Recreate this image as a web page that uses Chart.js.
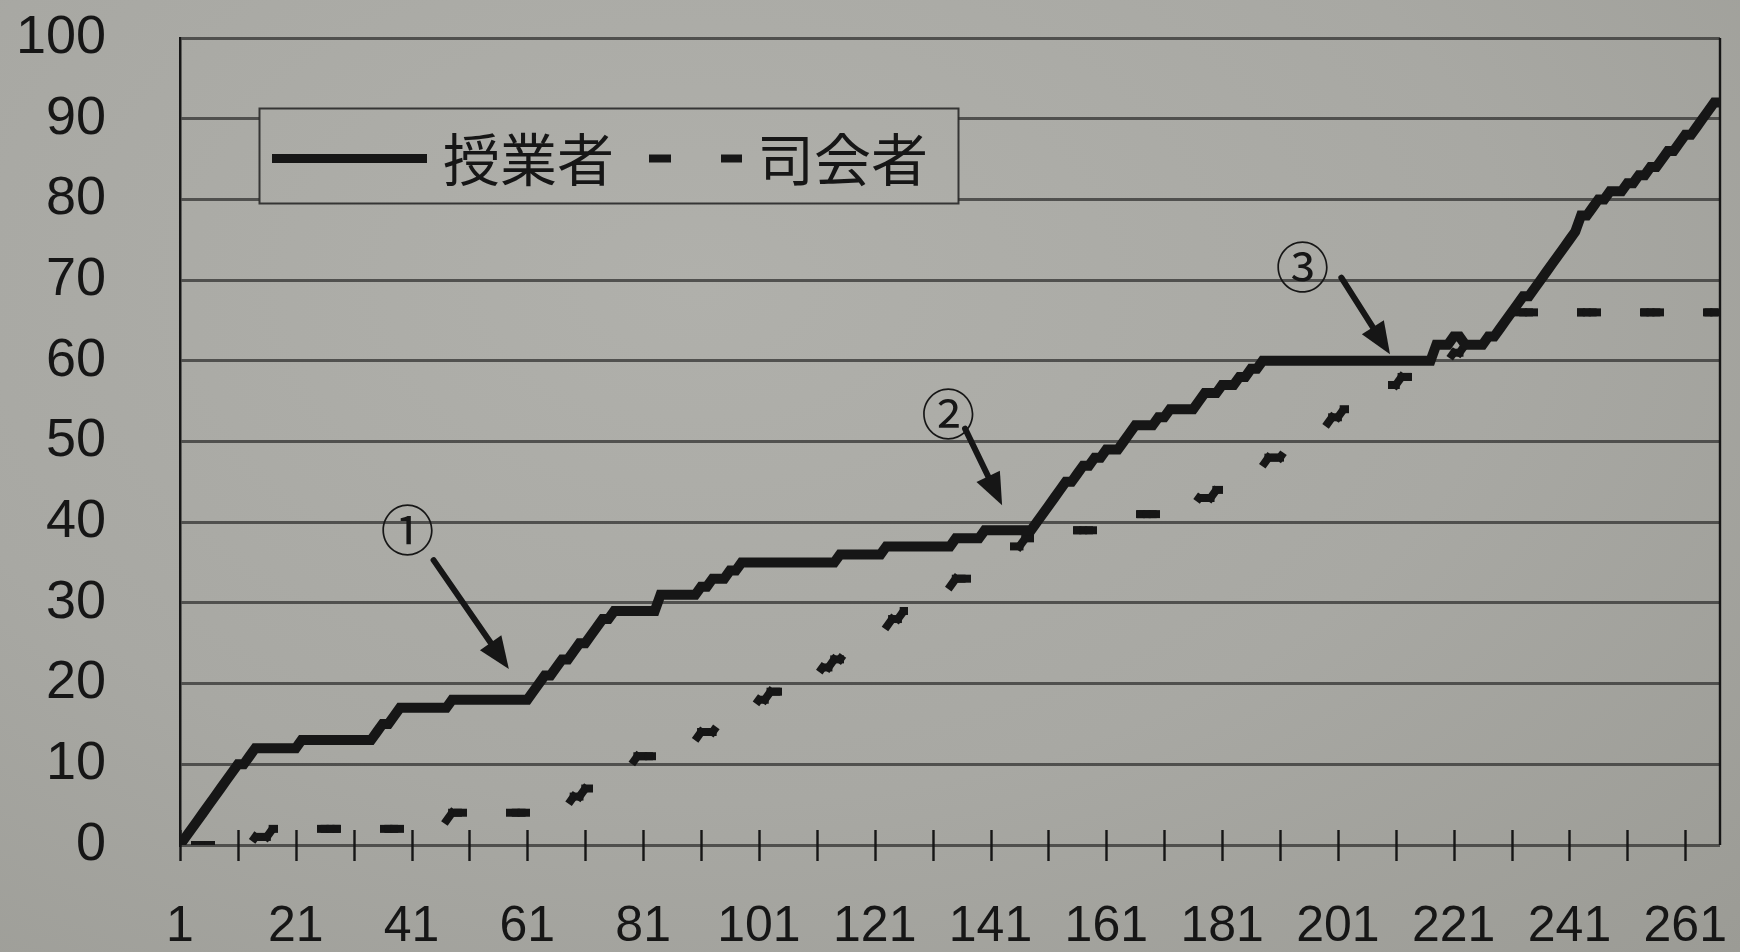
<!DOCTYPE html>
<html>
<head>
<meta charset="utf-8">
<script src="https://cdn.jsdelivr.net/npm/chart.js@4.4.1/dist/chart.umd.min.js"></script>
<style>
  html, body { margin: 0; padding: 0; }
  body {
    width: 1740px; height: 952px; overflow: hidden;
    background: radial-gradient(ellipse at 40% 30%, #b0b0ab 0%, #a8a8a3 55%, #9b9b95 100%);
  }
  #wrap { position: absolute; left: 0; top: 0; width: 1740px; height: 952px; }
</style>
</head>
<body>
<div id="wrap"><canvas id="c" width="1740" height="952"></canvas></div>
<script>
// Utterance sequence numbers along the x axis
const utteranceNo = Array.from({ length: 267 }, (_, i) => i + 1);

// Cumulative values for the teacher (授業者)
const teacher = [
  0, 1, 2, 3, 4, 5, 6, 7, 8, 9,
  10, 10, 11, 12, 12, 12, 12, 12, 12, 12,
  12, 13, 13, 13, 13, 13, 13, 13, 13, 13,
  13, 13, 13, 13, 14, 15, 15, 16, 17, 17,
  17, 17, 17, 17, 17, 17, 17, 18, 18, 18,
  18, 18, 18, 18, 18, 18, 18, 18, 18, 18,
  18, 19, 20, 21, 21, 22, 23, 23, 24, 25,
  25, 26, 27, 28, 28, 29, 29, 29, 29, 29,
  29, 29, 29, 31, 31, 31, 31, 31, 31, 31,
  32, 32, 33, 33, 33, 34, 34, 35, 35, 35,
  35, 35, 35, 35, 35, 35, 35, 35, 35, 35,
  35, 35, 35, 35, 36, 36, 36, 36, 36, 36,
  36, 36, 37, 37, 37, 37, 37, 37, 37, 37,
  37, 37, 37, 37, 38, 38, 38, 38, 38, 39,
  39, 39, 39, 39, 39, 39, 39, 39, 40, 41,
  42, 43, 44, 45, 45, 46, 47, 47, 48, 48,
  49, 49, 49, 50, 51, 52, 52, 52, 52, 53,
  53, 54, 54, 54, 54, 54, 55, 56, 56, 56,
  57, 57, 57, 58, 58, 59, 59, 60, 60, 60,
  60, 60, 60, 60, 60, 60, 60, 60, 60, 60,
  60, 60, 60, 60, 60, 60, 60, 60, 60, 60,
  60, 60, 60, 60, 60, 60, 60, 62, 62, 62,
  63, 63, 62, 62, 62, 62, 63, 63, 64, 65,
  66, 67, 68, 68, 69, 70, 71, 72, 73, 74,
  75, 76, 78, 78, 79, 80, 80, 81, 81, 81,
  82, 82, 83, 83, 84, 84, 85, 86, 86, 87,
  88, 88, 89, 90, 91, 92, 92
];

// Cumulative values for the moderator (司会者)
const moderator = [
  0, 0, 0, 0, 0, 0, 0, 0, 0, 0,
  0, 0, 0, 1, 1, 1, 2, 2, 2, 2,
  2, 2, 2, 2, 2, 2, 2, 2, 2, 2,
  2, 2, 2, 2, 2, 2, 2, 2, 2, 2,
  2, 2, 2, 2, 2, 3, 3, 4, 4, 4,
  4, 4, 4, 4, 4, 4, 4, 4, 4, 4,
  4, 4, 4, 4, 4, 4, 5, 5, 6, 6,
  7, 7, 7, 8, 8, 9, 9, 10, 10, 11,
  11, 11, 11, 11, 11, 11, 12, 12, 13, 13,
  14, 14, 14, 15, 15, 16, 16, 16, 17, 17,
  18, 18, 19, 19, 19, 20, 20, 20, 21, 21,
  21, 22, 22, 23, 23, 24, 24, 25, 25, 26,
  26, 27, 27, 28, 28, 29, 29, 30, 30, 30,
  31, 31, 32, 32, 33, 33, 33, 34, 34, 35,
  35, 36, 36, 37, 37, 37, 38, 38, 38, 39,
  39, 39, 39, 39, 39, 39, 39, 39, 39, 39,
  39, 39, 39, 40, 40, 41, 41, 41, 41, 41,
  41, 41, 41, 41, 42, 42, 43, 43, 43, 44,
  44, 45, 45, 45, 46, 46, 47, 47, 48, 48,
  48, 49, 49, 50, 50, 51, 51, 52, 52, 53,
  53, 54, 54, 55, 55, 56, 56, 56, 57, 57,
  57, 58, 58, 58, 59, 59, 59, 60, 60, 60,
  61, 61, 62, 62, 63, 63, 64, 64, 65, 65,
  66, 66, 66, 66, 66, 66, 66, 66, 66, 66,
  66, 66, 66, 66, 66, 66, 66, 66, 66, 66,
  66, 66, 66, 66, 66, 66, 66, 66, 66, 66,
  66, 66, 66, 66, 66, 66, 66
];

const seriesNames = ['授業者', '司会者'];

// Minor tick marks every 10, labels every 20
const xTickMarks = [1, 11, 21, 31, 41, 51, 61, 71, 81, 91, 101, 111, 121, 131, 141, 151, 161, 171, 181, 191, 201, 211, 221, 231, 241, 251, 261];
const xTickLabels = ['1', '21', '41', '61', '81', '101', '121', '141', '161', '181', '201', '221', '241', '261'];
const yTickLabels = ['0', '10', '20', '30', '40', '50', '60', '70', '80', '90', '100'];

// Numbered callouts: label position, arrow start and arrow tip, in data units
const callouts = [
  { mark: '①', at: [40.3, 39.0], from: [44.8, 35.3], to: [57.8, 21.8] },
  { mark: '②', at: [133.7, 53.3], from: [136.6, 51.6], to: [143.0, 42.1] },
  { mark: '③', at: [194.9, 71.6], from: [201.6, 70.3], to: [210.0, 60.8] }
];

const INK = '#161616';
const GRID = 'rgba(58, 58, 56, 0.8)';
const NUM_FONT = "'Liberation Sans', Arial, Helvetica, sans-serif";
const JP_FONT = "'Noto Sans CJK JP', 'Noto Sans CJK SC', sans-serif";

// Dashed series: the dash pattern is anchored to horizontal position,
// so each short segment picks up the phase of where it starts.
const DASH = [16, 47];
const DASH_PERIOD = DASH[0] + DASH[1];
const DASH_SHIFT = 15;
let dashOrigin = 0;
const dashPhase = seg => {
  const d = (seg.p0.x - dashOrigin - DASH_SHIFT) % DASH_PERIOD;
  return d < 0 ? d + DASH_PERIOD : d;
};

// Keeps the dash origin at the pixel of the first utterance
const dashOriginPlugin = {
  id: 'dashOrigin',
  afterLayout(chart) { dashOrigin = chart.scales.x.getPixelForValue(utteranceNo[0]); }
};

// Tick marks that cross the horizontal axis, plus the right-hand frame line
const framePlugin = {
  id: 'frame',
  beforeDatasetsDraw(chart) {
    const { ctx, chartArea } = chart;
    const xs = chart.scales.x;
    ctx.save();
    ctx.strokeStyle = INK;
    ctx.lineWidth = 2.4;
    ctx.beginPath();
    xs.ticks.forEach(t => {
      const px = Math.round(xs.getPixelForValue(t.value)) + 0.5;
      ctx.moveTo(px, chartArea.bottom - 15);
      ctx.lineTo(px, chartArea.bottom + 16);
    });
    ctx.moveTo(chartArea.right, chartArea.top);
    ctx.lineTo(chartArea.right, chartArea.bottom);
    ctx.stroke();
    ctx.restore();
  }
};

// Circled numbers with arrows pointing at the teacher's line
const calloutPlugin = {
  id: 'callouts',
  afterDatasetsDraw(chart) {
    const { ctx } = chart;
    const xs = chart.scales.x, ys = chart.scales.y;
    ctx.save();
    callouts.forEach(c => {
      const lx = xs.getPixelForValue(c.at[0]), ly = ys.getPixelForValue(c.at[1]);
      ctx.fillStyle = INK;
      ctx.font = `54px ${JP_FONT}`;
      ctx.textAlign = 'center';
      ctx.textBaseline = 'middle';
      ctx.fillText(c.mark, lx, ly);

      const x0 = xs.getPixelForValue(c.from[0]), y0 = ys.getPixelForValue(c.from[1]);
      const x1 = xs.getPixelForValue(c.to[0]), y1 = ys.getPixelForValue(c.to[1]);
      const ang = Math.atan2(y1 - y0, x1 - x0);
      const head = 32, half = 13;
      const bx = x1 - Math.cos(ang) * head, by = y1 - Math.sin(ang) * head;
      ctx.strokeStyle = INK;
      ctx.lineWidth = 6;
      ctx.lineCap = 'round';
      ctx.beginPath();
      ctx.moveTo(x0, y0);
      ctx.lineTo(bx + Math.cos(ang) * 4, by + Math.sin(ang) * 4);
      ctx.stroke();
      ctx.beginPath();
      ctx.moveTo(x1, y1);
      ctx.lineTo(bx + Math.sin(ang) * half, by - Math.cos(ang) * half);
      ctx.lineTo(bx - Math.sin(ang) * half, by + Math.cos(ang) * half);
      ctx.closePath();
      ctx.fill();
    });
    ctx.restore();
  }
};

// Boxed legend in the upper-left of the plot
const legendPlugin = {
  id: 'boxLegend',
  afterDraw(chart) {
    const { ctx, chartArea } = chart;
    const ds = chart.data.datasets;
    const left = chartArea.left + 79, top = chartArea.top + 70, w = 699, h = 95;
    const cy = top + h / 2 + 3;
    ctx.save();
    ctx.clearRect(left, top, w, h);
    ctx.strokeStyle = 'rgba(40,40,40,0.9)';
    ctx.lineWidth = 2;
    ctx.strokeRect(left + 0.5, top + 0.5, w, h);

    ctx.strokeStyle = ds[0].borderColor;
    ctx.lineWidth = 9;
    ctx.lineCap = 'butt';
    ctx.beginPath();
    ctx.moveTo(left + 13, cy);
    ctx.lineTo(left + 168, cy);
    ctx.stroke();

    ctx.lineWidth = 8;
    ctx.setLineDash([22, 50]);
    ctx.beginPath();
    ctx.moveTo(left + 390, cy);
    ctx.lineTo(left + 483, cy);
    ctx.stroke();
    ctx.setLineDash([]);

    ctx.fillStyle = INK;
    ctx.font = `57px ${JP_FONT}`;
    ctx.textAlign = 'left';
    ctx.textBaseline = 'middle';
    ctx.fillText(ds[0].label, left + 184, cy + 1);
    ctx.fillText(ds[1].label, left + 498, cy + 1);
    ctx.restore();
  }
};

new Chart(document.getElementById('c'), {
  type: 'line',
  data: {
    labels: utteranceNo,
    datasets: [
      {
        label: seriesNames[0], data: teacher,
        borderColor: INK, borderWidth: 10, pointRadius: 0,
        borderJoinStyle: 'miter', borderCapStyle: 'butt', tension: 0, order: 0
      },
      {
        label: seriesNames[1], data: moderator,
        borderColor: INK, borderWidth: 8, borderDash: DASH, pointRadius: 0,
        borderJoinStyle: 'miter', borderCapStyle: 'square', tension: 0, order: 1,
        segment: { borderDashOffset: dashPhase }
      }
    ]
  },
  options: {
    responsive: false,
    animation: false,
    devicePixelRatio: 1,
    layout: { padding: { top: 38, right: 20, left: 0, bottom: 0 } },
    plugins: { legend: { display: false }, tooltip: { enabled: false } },
    scales: {
      x: {
        type: 'linear', min: 1, max: 267,
        afterBuildTicks: s => { s.ticks = xTickMarks.map(v => ({ value: v })); },
        afterFit: s => { s.height = 107; s.paddingLeft = 0; s.paddingRight = 0; },
        grid: { display: false, drawTicks: false },
        border: { display: false },
        ticks: {
          autoSkip: false, maxRotation: 0, minRotation: 0, padding: 52,
          color: INK, font: { family: NUM_FONT, size: 50 },
          callback: v => (xTickLabels.includes(String(v)) ? String(v) : '')
        }
      },
      y: {
        min: 0, max: 100,
        afterBuildTicks: s => { s.ticks = yTickLabels.map(t => ({ value: Number(t) })); },
        afterFit: s => { s.width = 180; s.paddingTop = 0; s.paddingBottom = 0; },
        grid: { color: GRID, lineWidth: 3, drawTicks: false },
        border: { display: true, color: INK, width: 2.5 },
        ticks: {
          padding: 74, color: INK, font: { family: NUM_FONT, size: 54 },
          callback: v => String(v)
        }
      }
    }
  },
  plugins: [dashOriginPlugin, framePlugin, calloutPlugin, legendPlugin]
});
</script>
</body>
</html>
